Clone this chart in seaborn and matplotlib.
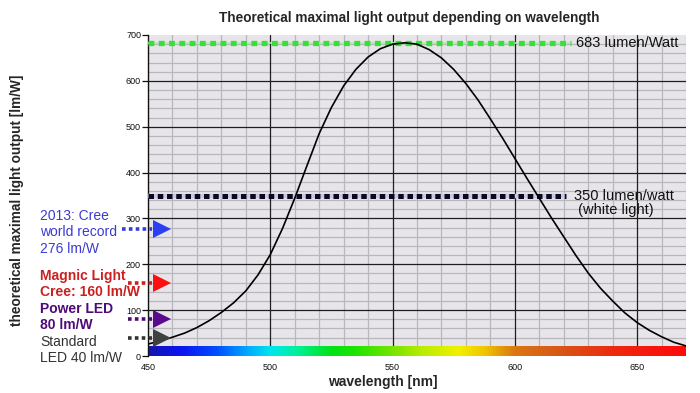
import matplotlib
matplotlib.use("Agg")
import matplotlib.pyplot as plt
from matplotlib.colors import LinearSegmentedColormap
from matplotlib.ticker import MultipleLocator
import numpy as np
import pandas as pd
import seaborn as sns

# ── Data ─────────────────────────────────────────────────────────────────────
wavelength = [450, 455, 460, 465, 470, 475, 480, 485, 490, 495, 500, 505,
              510, 515, 520, 525, 530, 535, 540, 545, 550, 555, 560, 565,
              570, 575, 580, 585, 590, 595, 600, 605, 610, 615, 620, 625,
              630, 635, 640, 645, 650, 655, 660, 665, 670]
light_output = [26, 33, 41, 50, 62, 77, 95, 116, 142, 177, 221, 278,
                344, 415, 485, 542, 589, 625, 652, 670, 680, 683, 680, 668,
                650, 625, 594, 558, 517, 475, 431, 387, 344, 301, 260, 219,
                181, 148, 120, 94, 73, 56, 42, 30, 22]

x_ticks = [450, 500, 550, 600, 650]
y_ticks = [0, 100, 200, 300, 400, 500, 600, 700]

# spectrum bar colour stops
spec_nm = [450, 463, 478, 490, 500, 510, 525, 535, 550, 562, 577, 588,
           600, 620, 640, 670]
spec_col = ["#1414b4", "#0a14f0", "#0050ff", "#00a8ff", "#00e6ec", "#00f0a0",
            "#00e214", "#20e400", "#78e400", "#b8ec00", "#f2f000", "#f0c400",
            "#da7814", "#d85414", "#ec2a10", "#ff0a0a"]

# reference lines on the right
ref_values = [683, 350]
ref_labels = ["683 lumen/Watt", "350 lumen/watt\n (white light)"]

# LED markers on the left
led_values = [276, 160, 80, 40]
led_labels = ["2013: Cree\nworld record\n276 lm/W", "Magnic Light\nCree: 160 lm/W",
              "Power LED\n80 lm/W", "Standard\nLED 40 lm/W"]
led_colors = ["#3b3bd2", "#cc2020", "#4e0a78", "#333333"]
led_tri = ["#2a40f4", "#ff1010", "#5a0a8c", "#404040"]
led_bold = [False, True, True, False]

df = pd.DataFrame({"wavelength": wavelength, "output": light_output})

sns.set_theme(style="white")
plt.rcParams["font.family"] = ["Liberation Sans", "DejaVu Sans"]

fig = plt.figure(figsize=(7, 3.93), dpi=100)
ax = fig.add_axes([148 / 700, 37 / 393, 538 / 700, 321 / 393])
ax.set_facecolor("#e7e5e9")
ax.set_xlim(450, 670)
ax.set_ylim(0, 700)

# grid
ax.xaxis.set_minor_locator(MultipleLocator(10))
ax.yaxis.set_minor_locator(MultipleLocator(20))
ax.grid(which="minor", color="#b8b8bc", linewidth=0.9, zorder=0)
ax.grid(which="major", visible=False)
for xv in x_ticks[1:]:
    ax.axvline(xv, color="#1e1e1e", linewidth=0.9, zorder=1)
for yv in y_ticks[1:-1]:
    ax.axhline(yv, color="#1e1e1e", linewidth=0.9, zorder=1)

# spectrum bar
cmap = LinearSegmentedColormap.from_list(
    "spec", [((n - 450) / 220, c) for n, c in zip(spec_nm, spec_col)])
ax.imshow(np.linspace(0, 1, 400)[None, :], cmap=cmap, aspect="auto",
          extent=[450, 670, 0, 20], zorder=2)

# reference dotted lines
ax.plot([450, 621], [ref_values[1]] * 2, color="#c8c8ec", linewidth=3.2,
        zorder=3, solid_capstyle="butt")
ax.plot([450, 621], [ref_values[1]] * 2, color="#0a0a1e", linewidth=3.6,
        linestyle=(0, (1.1, 0.75)), zorder=4)
ax.plot([450, 623], [ref_values[0]] * 2, color="#aaeeaa", linewidth=1.2,
        zorder=3)
ax.plot([450, 623], [ref_values[0]] * 2, color="#3ade3a", linewidth=3.8,
        linestyle=(0, (1.1, 0.85)), zorder=4)

ax.text(625, ref_values[0], ref_labels[0], fontsize=10.5, va="center",
        ha="left", color="#111111", zorder=6)
ax.text(624.2, ref_values[1] - 17, ref_labels[1], fontsize=10.5, va="center",
        ha="left", color="#111111", linespacing=1.0, zorder=6)

# luminosity curve
sns.lineplot(data=df, x="wavelength", y="output", ax=ax, color="black",
             linewidth=1.2, zorder=5, legend=False)

# LED arrows on the left
for i, (v, c, t) in enumerate(zip(led_values, led_colors, led_tri)):
    x0 = 439.3 if i == 0 else 441.8
    ax.plot([x0, 451.6], [v, v], color=c, linewidth=2.6,
            linestyle=(0, (1.0, 0.9)), clip_on=False, zorder=6)
    ax.plot([455.6], [v], marker=">", markersize=13, color=t,
            markeredgewidth=0, clip_on=False, zorder=7)

text_tops = [216, 276, 309, 342]
for lab, c, b, yt in zip(led_labels, led_colors, led_bold, text_tops):
    fig.text(40 / 700, 1 - (yt - 7) / 393, lab, fontsize=10, color=c,
             fontweight="bold" if b else "normal", va="top", ha="left",
             linespacing=1.22)

# axes styling
ax.set_xticks(x_ticks)
ax.set_yticks(y_ticks)
ax.tick_params(axis="x", which="both", length=0, pad=5, labelsize=6.5,
               colors="#111111")
ax.tick_params(axis="y", which="major", length=4, width=0.9, pad=1,
               labelsize=6.5, colors="#111111", left=True)
ax.tick_params(axis="y", which="minor", length=0)
for s in ["top", "right", "bottom"]:
    ax.spines[s].set_visible(False)
ax.spines["left"].set_color("#111111")
ax.spines["left"].set_linewidth(1.0)
ax.set_xlabel("")
ax.set_ylabel("")

fig.text(409 / 700, 1 - 18 / 393,
         "Theoretical maximal light output depending on wavelength",
         fontsize=9.8, fontweight="bold", ha="center", va="center")
fig.text(383 / 700, 1 - 382 / 393, "wavelength [nm]", fontsize=10,
         fontweight="bold", ha="center", va="center")
fig.text(17 / 700, 1 - 200 / 393, "theoretical maximal light output [lm/W]",
         fontsize=9.8, fontweight="bold", rotation=90, ha="center", va="center")

fig.savefig("out.png", dpi=100)
